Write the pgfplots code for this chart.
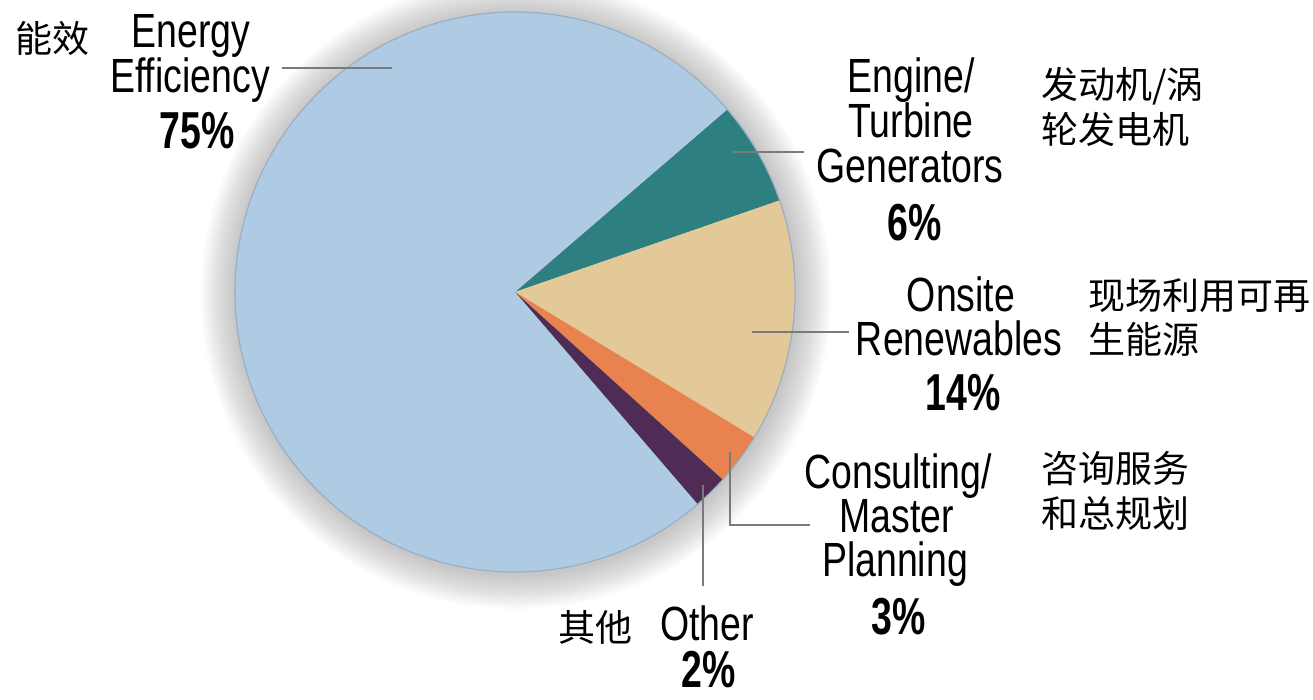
\documentclass[border=0pt]{standalone}
\usepackage{fontspec}
\setmainfont{Liberation Sans}[FakeStretch=0.78, BoldFeatures={FakeStretch=0.72}]
\newfontfamily\cjk{Noto Sans CJK SC}
\usepackage{pgfplots}
\usepackage{pgfplotstable}
\pgfplotsset{compat=1.18}
\definecolor{cEnergy}{HTML}{AFCAE3}
\definecolor{cEngine}{HTML}{2E8080}
\definecolor{cOnsite}{HTML}{E3C898}
\definecolor{cConsult}{HTML}{E8834F}
\definecolor{cOther}{HTML}{4E2C55}
\definecolor{cLead}{HTML}{7A7A7A}
\definecolor{cRim}{HTML}{98AFC4}

\pgfplotstableread{
value colour
6 cEngine
14 cOnsite
3 cConsult
2 cOther
75 cEnergy
}\piedata

\newcommand{\lab}[3]{\node[anchor=base, inner sep=0pt, font=\fontsize{24bp}{24bp}\selectfont] at (axis cs:#1,#2) {#3};}
\newcommand{\pct}[3]{\node[anchor=base, inner sep=0pt, font=\fontsize{26bp}{26bp}\selectfont\bfseries] at (axis cs:#1,#2) {#3};}
\newcommand{\zh}[3]{\node[anchor=west, inner sep=0pt, font=\fontsize{18.5bp}{18.5bp}\cjk] at (axis cs:#1,#2) {#3};}

\begin{document}
\begin{tikzpicture}
\begin{axis}[hide axis, x=0.5bp, y=0.5bp, xmin=0, xmax=1313, ymin=0, ymax=699,
  y dir=reverse, clip=true]
% glow shadow
\pgfplotsinvokeforeach{1,...,16}{
  \fill[black, opacity=0.017] (axis cs:516,294) circle[radius={140bp+#1*1.1bp}];
}
% slices from data
\pgfplotstablegetrowsof{\piedata}
\pgfmathtruncatemacro\nrows{\pgfplotsretval-1}
\def\curang{40.7}
\pgfplotsforeachungrouped \i in {0,...,\nrows}{
  \pgfplotstablegetelem{\i}{value}\of\piedata \let\val\pgfplotsretval
  \pgfplotstablegetelem{\i}{colour}\of\piedata \let\col\pgfplotsretval
  \pgfmathsetmacro\endang{\curang-3.6*\val}
  \edef\temp{\noexpand\fill[\col] (axis cs:515,292) -- ++(\curang:140bp) arc[start angle=\curang, end angle=\endang, radius=140bp] -- cycle;}
  \temp
  \let\curang\endang
}
\draw[cRim, line width=0.6bp] (axis cs:515,292) circle[radius=140bp];
% leader lines
\begin{scope}[cLead, line width=0.75bp]
\draw (axis cs:282,68) -- (axis cs:392,68);
\draw (axis cs:733,152) -- (axis cs:804,152);
\draw (axis cs:752,332) -- (axis cs:849,332);
\draw (axis cs:730,452) -- (axis cs:730,525) -- (axis cs:810,525);
\draw (axis cs:703,485) -- (axis cs:703,586);
\end{scope}
% labels
\lab{191}{48}{Energy}
\lab{190}{93}{Efficiency}
\pct{197}{148}{75\%}
\lab{911}{93}{Engine/}
\lab{911}{137}{Turbine}
\lab{910}{182}{Generators}
\pct{915}{240}{6\%}
\lab{961}{311}{Onsite}
\lab{959}{355}{Renewables}
\pct{963}{410}{14\%}
\lab{898}{488}{Consulting/}
\lab{897}{532}{Master}
\lab{895}{576}{Planning}
\pct{899}{634}{3\%}
\lab{707}{640}{Other}
\pct{709}{687}{2\%}
\zh{15}{38}{能效}
\zh{1041}{86}{发动机/涡}
\zh{1041}{129}{轮发电机}
\zh{1088}{296}{现场利用可再}
\zh{1088}{339}{生能源}
\zh{1041}{469}{咨询服务}
\zh{1041}{513}{和总规划}
\zh{558}{627}{其他}
\end{axis}
\pgfresetboundingbox
\useasboundingbox (current axis.south west) rectangle (current axis.north east);
\end{tikzpicture}
\end{document}
